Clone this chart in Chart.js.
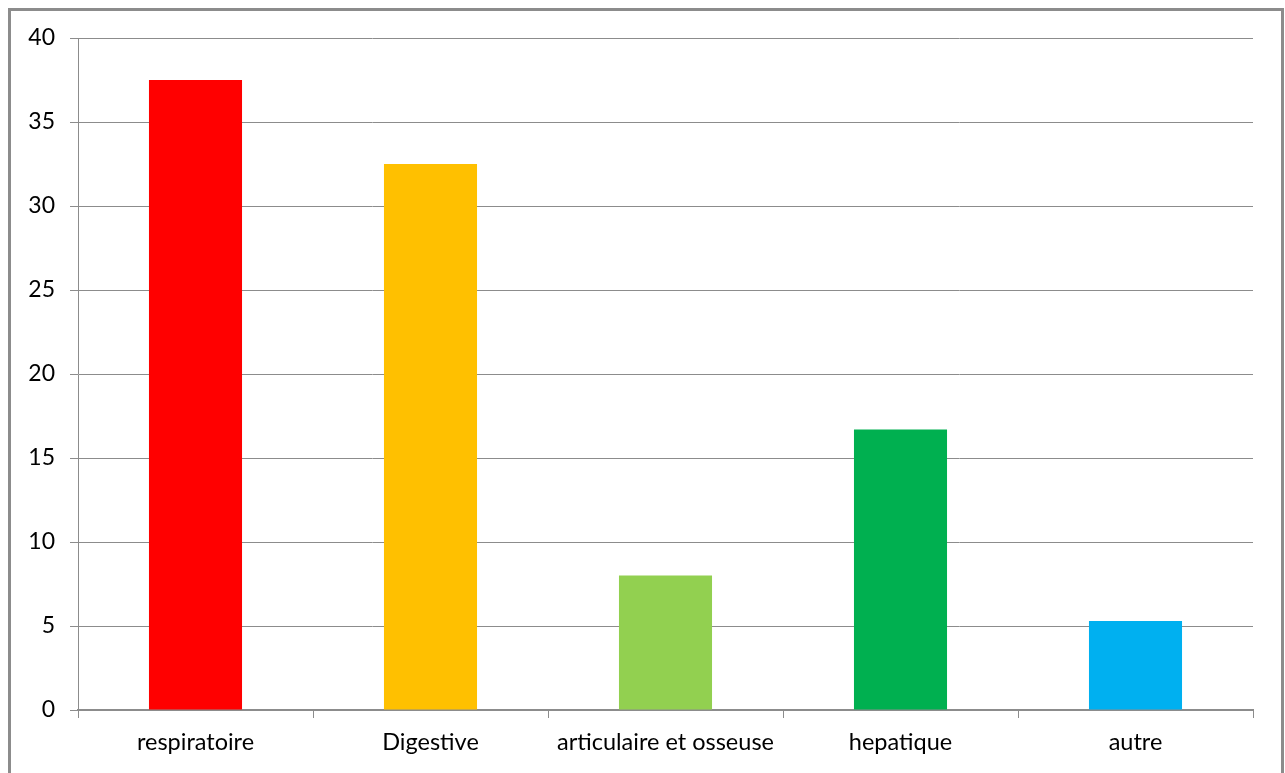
<!DOCTYPE html>
<html>
<head>
<meta charset="utf-8">
<script src="https://cdn.jsdelivr.net/npm/chart.js@4/dist/chart.umd.min.js"></script>
<style>
  html, body { margin: 0; padding: 0; background: #fff; }
  #wrap { position: relative; width: 1285px; height: 773px; overflow: hidden; }
  #frame { position: absolute; left: 8px; top: 8px; width: 1270px; height: 800px;
           border: 3px solid #8c8c8c; box-sizing: content-box; pointer-events: none; }
  canvas { position: absolute; left: 0; top: 0; }
</style>
</head>
<body>
<div id="wrap">
  <canvas id="c" width="1285" height="773"></canvas>
  <div id="frame"></div>
</div>
<script>
// Categories and values (%)
const categories = ['respiratoire', 'Digestive', 'articulaire et osseuse', 'hepatique', 'autre'];
const values = [37.5, 32.5, 8, 16.7, 5.3];
const barColors = ['#FF0000', '#FFC000', '#92D050', '#00B050', '#00B0F0'];
const yTicks = [0, 5, 10, 15, 20, 25, 30, 35, 40];

const FONT = 'Lato, "Open Sans", sans-serif';
const GRID = '#8c8c8c';

new Chart(document.getElementById('c'), {
  type: 'bar',
  data: {
    labels: categories,
    datasets: [{
      data: values,
      backgroundColor: barColors,
      borderWidth: 0,
      barPercentage: 0.396,
      categoryPercentage: 1.0
    }]
  },
  options: {
    responsive: false,
    animation: false,
    layout: { padding: { left: 0, top: 38, right: 32, bottom: 0 } },
    plugins: { legend: { display: false }, tooltip: { enabled: false } },
    scales: {
      x: {
        grid: { drawOnChartArea: false, color: GRID, tickLength: 8, offset: true },
        border: { color: GRID, width: 2 },
        ticks: { color: '#000', font: { family: FONT, size: 23.5 }, padding: 10, maxRotation: 0, autoSkip: false },
        afterFit: s => { s.height = 63; }
      },
      y: {
        min: 0, max: 40,
        afterBuildTicks: s => { s.ticks = yTicks.map(v => ({ value: v })); },
        grid: { color: GRID, tickLength: 8, lineWidth: 1 },
        border: { color: GRID, width: 1 },
        ticks: { color: '#000', font: { family: FONT, size: 23 }, padding: 15 },
        afterFit: s => { s.width = 78; }
      }
    }
  }
});
</script>
</body>
</html>
